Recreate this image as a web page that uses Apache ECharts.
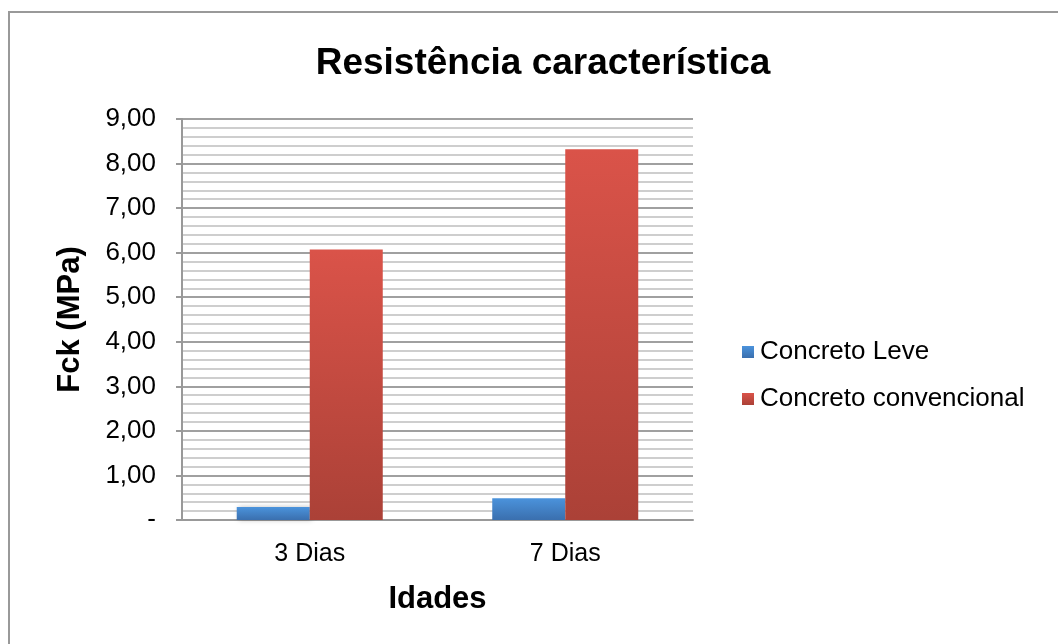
<!DOCTYPE html>
<html>
<head>
<meta charset="utf-8">
<script src="https://cdn.jsdelivr.net/npm/echarts@6/dist/echarts.min.js"></script>
<style>
  html, body { margin: 0; padding: 0; background: #fff; }
  #container { width: 1058px; height: 644px; }
</style>
</head>
<body>
<div id="container"></div>
<script>
var dom = document.getElementById("container");
var myChart = echarts.init(dom);

var categories = ['3 Dias', '7 Dias'];
var leve = [0.29, 0.49];
var convencional = [6.07, 8.32];

var fontFamily = '"Liberation Sans", Arial, sans-serif';

function grad(top, bottom) {
  return new echarts.graphic.LinearGradient(0, 0, 0, 1, [
    { offset: 0, color: top },
    { offset: 1, color: bottom }
  ]);
}

var option = {
  backgroundColor: '#fff',
  textStyle: { fontFamily: fontFamily },
  title: {
    text: 'Resistência característica',
    left: 538,
    textAlign: 'center',
    top: 40,
    textStyle: { fontSize: 37, fontWeight: 'bold', color: '#000', fontFamily: fontFamily }
  },
  legend: {
    orient: 'vertical',
    left: 737,
    top: 334,
    itemWidth: 12,
    itemHeight: 12,
    itemGap: 21,
    icon: 'rect',
    textStyle: { fontSize: 26, color: '#000', padding: [0, 0, 0, 1] },
    data: ['Concreto Leve', 'Concreto convencional']
  },
  graphic: [{
    type: 'rect',
    shape: { x: 9, y: 12, width: 1200, height: 800 },
    style: { fill: 'none', stroke: '#999', lineWidth: 2 },
    silent: true
  }],
  grid: { left: 182, right: 365, top: 119, bottom: 124 },
  xAxis: {
    type: 'category',
    data: categories,
    name: 'Idades',
    nameLocation: 'middle',
    nameGap: 64,
    nameTextStyle: { fontSize: 31, fontWeight: 'bold', color: '#000' },
    axisLine: { lineStyle: { color: '#999', width: 2 } },
    axisTick: { length: 7, lineStyle: { color: '#999', width: 2 } },
    axisLabel: { fontSize: 25, color: '#000', margin: 22 }
  },
  yAxis: {
    type: 'value',
    min: 0,
    max: 9,
    interval: 1,
    name: 'Fck (MPa)',
    nameLocation: 'middle',
    nameGap: 96,
    nameTextStyle: { fontSize: 31, fontWeight: 'bold', color: '#000' },
    axisLine: { show: true, lineStyle: { color: '#999', width: 2 } },
    axisTick: { show: true, length: 6, lineStyle: { color: '#999', width: 2 } },
    axisLabel: {
      fontSize: 26,
      color: '#000',
      margin: 26,
      formatter: function (v) { return v === 0 ? '-' : v.toFixed(2).replace('.', ','); }
    },
    splitLine: { lineStyle: { color: '#a0a0a0', width: 2 } },
    minorTick: { show: false, splitNumber: 5 },
    minorSplitLine: { show: true, lineStyle: { color: '#cecece', width: 2 } }
  },
  series: [{
    name: 'Concreto Leve',
    type: 'bar',
    data: leve,
    barWidth: 73,
    barGap: '0%',
    itemStyle: {
      color: grad('#4b93dc', '#3a6fae'),
      shadowColor: 'rgba(0,0,0,0.25)',
      shadowBlur: 5,
      shadowOffsetX: 2
    }
  }, {
    name: 'Concreto convencional',
    type: 'bar',
    data: convencional,
    barWidth: 73,
    barGap: '0%',
    itemStyle: {
      color: grad('#da5349', '#ab4137'),
      shadowColor: 'rgba(0,0,0,0.25)',
      shadowBlur: 5,
      shadowOffsetX: 2
    }
  }]
};

if (option && typeof option === 'object') {
  myChart.setOption(option);
}
</script>
</body>
</html>
